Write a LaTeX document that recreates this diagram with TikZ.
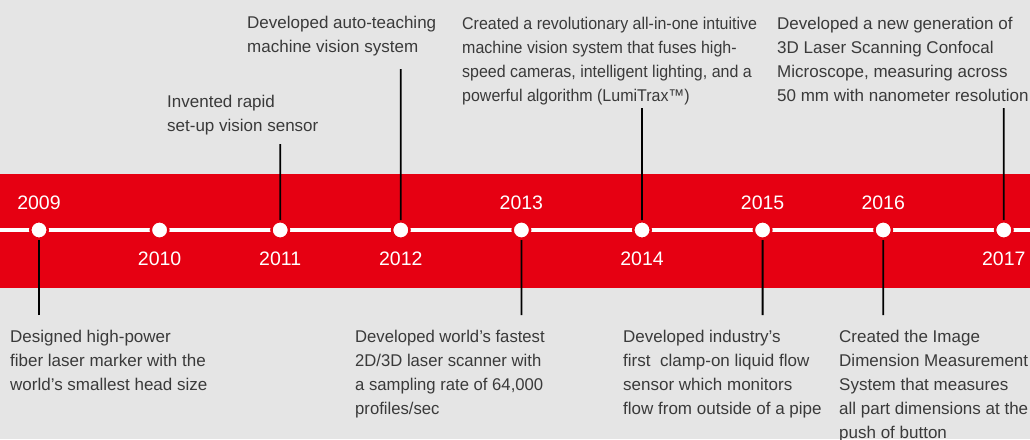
\documentclass[tikz,border=0pt]{standalone}
\usepackage{fontspec}
\setmainfont{Liberation Sans}
\usetikzlibrary{positioning}
\definecolor{bandred}{HTML}{E60012}
\definecolor{bggray}{HTML}{E5E5E5}
\definecolor{txtgray}{HTML}{3A3A3A}
\begin{document}
\begin{tikzpicture}[x=1pt,y=-1pt,
	dot/.style={circle,fill=white,draw=bandred,line width=2.5pt,minimum size=17.5pt,inner sep=0pt},
	year/.style={white,inner sep=0pt,outer sep=0pt,font=\fontsize{19.5}{20}\selectfont},
	desc/.style={txtgray,align=left,anchor=north west,inner sep=0pt,font=\fontsize{17}{24}\selectfont},
	conn/.style={black,line width=1.8pt}]
	%背景和红带
	\useasboundingbox (0,0) rectangle (1030,439);
	\fill[bggray] (0,0) rectangle (1030,439);
	\fill[bandred] (0,174) rectangle (1030,288);
	\draw[white,line width=3.5pt] (0,230) -- (1030,230);
	%年份点
	\foreach \yr [count=\i from 0] in {2009,...,2017}
		\node[dot] (d\yr) at ({39+120.6*\i},230) {};
	\foreach \yr in {2009,2013,2015,2016}
		\node[year,above=10pt of d\yr] (y\yr) {\yr};
	\foreach \yr in {2010,2011,2012,2014,2017}
		\node[year,below=12pt of d\yr] (y\yr) {\yr};
	%上方说明
	\node[desc] (t2011) at (167,95) {Invented rapid\\set-up vision sensor};
	\node[desc] (t2012) at (247,16) {Developed auto-teaching\\machine vision system};
	\node[desc,xscale=0.94,transform shape] (t2014) at (462,16.5) {Created a revolutionary all-in-one intuitive\\machine vision system that fuses high-\\speed cameras, intelligent lighting, and a\\powerful algorithm (LumiTrax™)};
	\node[desc] (t2017) at (777,16.5) {Developed a new generation of\\3D Laser Scanning Confocal\\Microscope, measuring across\\50 mm with nanometer resolution};
	%下方说明
	\node[desc] (t2009) at (10,330) {Designed high-power\\fiber laser marker with the\\world's smallest head size};
	\node[desc,xscale=0.98,transform shape] (t2013) at (355,330) {Developed world's fastest\\2D/3D laser scanner with\\a sampling rate of 64,000\\profiles/sec};
	\node[desc] (t2015) at (623,330) {Developed industry's\\first\ \ clamp-on liquid flow\\sensor which monitors\\flow from outside of a pipe};
	\node[desc] (t2016) at (839,330) {Created the Image\\Dimension Measurement\\System that measures\\all part dimensions at the\\push of button};
	%连线
	\foreach \yr/\x/\y in {2011/280.2/144,2012/400.8/69,2014/642/108,2017/1003.8/108,
		2009/39/315,2013/521.4/315,2015/762.6/315,2016/883.2/315}{
		\coordinate (c\yr) at (\x,\y);
		\draw[conn] (c\yr) -- (d\yr);
	}
\end{tikzpicture}
\end{document}
